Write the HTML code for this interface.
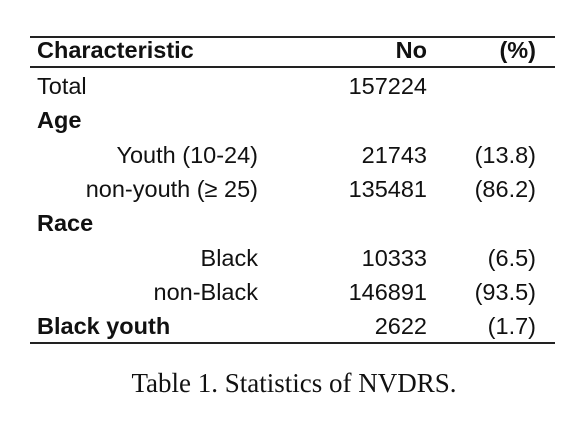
<!DOCTYPE html>
<html><head><meta charset="utf-8"><style>
body{margin:0;width:588px;height:434px;background:#fff;position:relative;overflow:hidden;font-family:"Liberation Sans",sans-serif;color:#111}
.l{position:absolute;left:30px;width:525px;background:#222}
.t{position:absolute;font-size:23.5px;line-height:26px;white-space:nowrap}
.b{font-weight:bold}
.r{text-align:right}
</style></head><body>
<div class="l" style="top:36px;height:2px"></div>
<div class="l" style="top:66px;height:2px"></div>
<div class="l" style="top:342px;height:2px"></div>
<div class="t b" style="left:37px;top:37px">Characteristic</div>
<div class="t b r" style="right:161px;top:37px">No</div>
<div class="t b r" style="right:52px;top:37px">(%)</div>
<div id="rows"></div>
<div class="t" style="left:0;width:588px;text-align:center;top:368px;font-family:'Liberation Serif',serif;font-size:27px;line-height:30px">Table 1. Statistics of NVDRS.</div>
<script>
const labels=["Total","Age","Youth (10-24)","non-youth (≥ 25)","Race","Black","non-Black","Black youth"];
const counts=["157224","","21743","135481","","10333","146891","2622"];
const pcts=["","","(13.8)","(86.2)","","(6.5)","(93.5)","(1.7)"];
const kinds=["plain","bold","sub","sub","bold","sub","sub","bold"];
const rows=document.getElementById('rows');
labels.forEach((lab,i)=>{
  const top=73+i*34.3;
  const a=document.createElement('div');
  a.className='t'+(kinds[i]==='bold'?' b':'');
  if(kinds[i]==='sub'){a.style.right=(588-258)+'px';}else{a.style.left='37px';}
  a.style.top=top+'px';a.textContent=lab;
  
  
  rows.appendChild(a);
  if(counts[i]){const c=document.createElement('div');c.className='t';c.style.right='161px';c.style.top=top+'px';c.textContent=counts[i];
  
  
  rows.appendChild(c);}
  if(pcts[i]){const p=document.createElement('div');p.className='t';p.style.right='52px';p.style.top=top+'px';p.textContent=pcts[i];
  
  
  rows.appendChild(p);}
});
</script>
</body></html>
